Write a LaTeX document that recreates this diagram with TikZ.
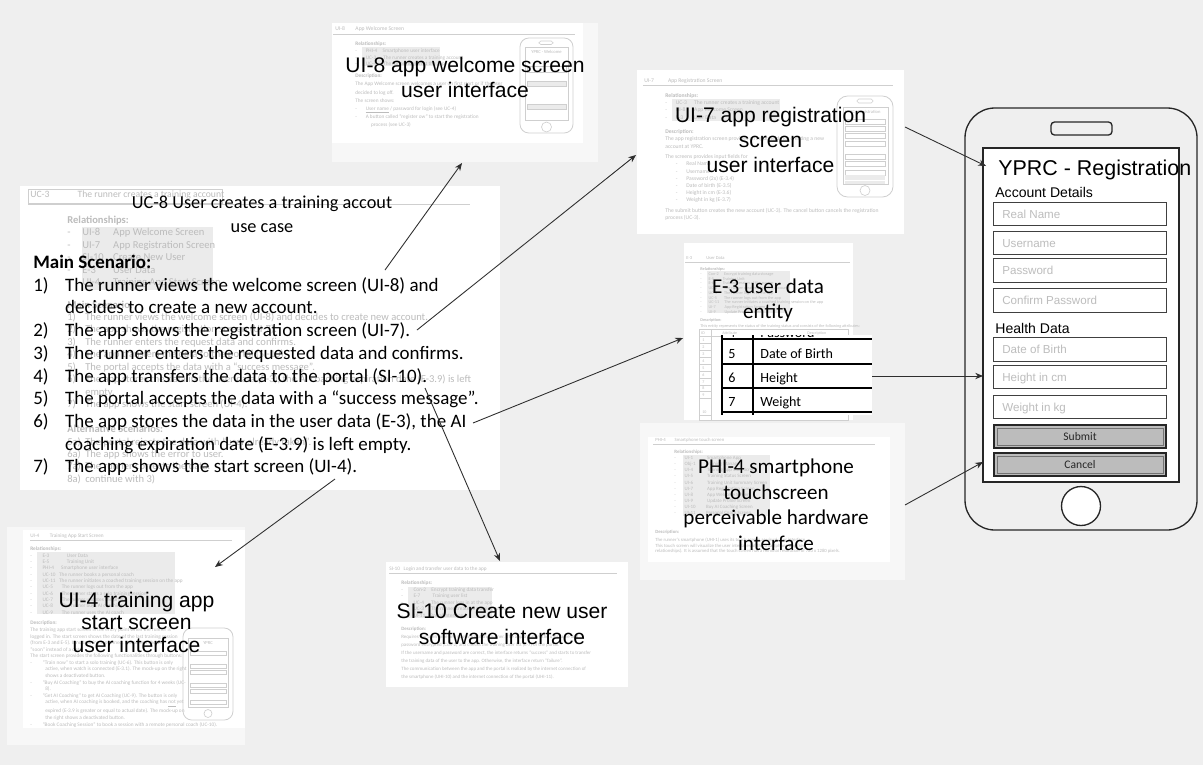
\documentclass[tikz,border=0pt]{standalone}
\usepackage{fontspec}
\setmainfont{Carlito}
\newfontfamily\arialfam{Liberation Sans}
\usetikzlibrary{arrows.meta}

\definecolor{canvas}{HTML}{EFEFEF}
\definecolor{sheetshade}{HTML}{F7F7F7}
\definecolor{ghost}{HTML}{BCBCBC}
\definecolor{hilite}{HTML}{EBEBEB}
\definecolor{placeholder}{HTML}{BDBDBD}
\definecolor{buttonfill}{HTML}{BCBCBC}
\definecolor{wire}{HTML}{2E2E2E}
\definecolor{miniline}{HTML}{CFCFCF}

\newcommand{\pxfont}[2]{\fontsize{#1}{#2}\selectfont}

\tikzset{
  sheet/.style={fill=white},
  sheetedge/.style={fill=sheetshade},
  ghosttext/.style={text=ghost, inner sep=0pt, anchor=north west, align=left},
  ghosthead/.style={text=ghost, inner sep=0pt, anchor=base west},
  ghostrule/.style={draw=miniline, line width=0.4pt},
  hl/.style={fill=hilite},
  arialtag/.style={font=\arialfam\pxfont{12}{14.2}, align=center, inner sep=0pt, anchor=north},
  calibtag/.style={font=\pxfont{12}{14.2}, align=center, inner sep=0pt, anchor=north},
  link/.style={draw=wire, line width=0.5pt, -{Stealth[length=4.4pt,width=3.6pt]}},
  phoneline/.style={draw=black!85, line width=0.75pt},
  fieldbox/.style={draw=black!75, line width=0.55pt, fill=white},
  phtext/.style={font=\arialfam\pxfont{6.6}{8}, text=placeholder, inner sep=0pt, anchor=base west},
  phlabel/.style={font=\arialfam\pxfont{8}{9.6}, inner sep=0pt, anchor=base west},
  pushbutton/.style={draw=black!85, line width=1.1pt, fill=buttonfill},
  buttonbevel/.style={draw=black!55, line width=0.4pt},
  buttontext/.style={font=\pxfont{6.6}{8}, text=black!85, inner sep=0pt, anchor=base},
  minibody/.style={draw=miniline, line width=0.45pt, rounded corners=4pt},
  minipart/.style={draw=miniline, line width=0.35pt},
  tabletext/.style={font=\pxfont{8}{9.6}, inner sep=0pt, anchor=base west},
}

\begin{document}
\begin{tikzpicture}[x=0.02cm,y=-0.02cm]
\useasboundingbox (0,0) rectangle (1203,765);
\fill[canvas] (0,0) rectangle (1203,765);

% ---------------- UI-8 sheet (welcome screen) ----------------
\fill[sheetedge] (332,23) rectangle (598,162);
\fill[sheet] (332,23) rectangle (583,143);
\node[ghosthead, font=\pxfont{3.2}{4}] (u8h) at (335,30) {UI-8\hspace{6pt}App Welcome Screen};
\draw[ghostrule] (333,34) -- (575,34);
\fill[hl] (362,47) rectangle (440,66);
\node[ghosttext, font=\pxfont{3}{3.8}] (u8r) at (355,41.8) {\textbf{Relationships:}\\
-\hspace{5pt}PHI-4\hspace{3pt}Smartphone user interface\\
-\hspace{5pt}UC-3\hspace{4pt}The runner creates a training account\\
-\hspace{5pt}UC-4\hspace{4pt}The runner logs in at the app};
\node[ghosttext, font=\pxfont{3}{4.6}] (u8d) at (355,73.8) {\textbf{Description:}\\
The App Welcome screen welcomes a user on first start or if the user\\
decided to log off.\\
The screen shows:\\
-\hspace{5pt}\underline{User name} / password for login (see UC-4)\\
-\hspace{5pt}A button called ``register ow'' to start the registration\\
\hspace*{9pt}process (see UC-3)};
% small phone mock-up
\draw[minibody, rounded corners=5pt] (520,38) rectangle (573,133);
\draw[minipart, rounded corners=1pt] (539,41) rectangle (553,44.5);
\draw[minipart] (525,47) rectangle (568,120);
\node[ghosthead, font=\pxfont{2.6}{3}, anchor=base] (u8t) at (546.5,53) {YPRC - Welcome};
\draw[minipart] (527,66) rectangle (566,72);
\fill[hilite] (527,81) rectangle (566,86);
\draw[minipart] (527,81) rectangle (566,86);
\fill[hilite] (527,104) rectangle (566,109);
\draw[minipart] (527,104) rectangle (566,109);
\draw[minipart] (546.5,127) circle [radius=0.1cm];

% ---------------- UI-7 sheet (registration screen) ----------------
\fill[sheet] (637,70) rectangle (904,234);
\node[ghosthead, font=\pxfont{3.2}{4}] (u7h) at (644,82) {UI-7\hspace{8pt}App Registration Screen};
\draw[ghostrule] (643,85) -- (893,85);
\fill[hl] (672,99) rectangle (780,121);
\node[ghosttext, font=\pxfont{3.2}{4.25}] (u7r) at (665,92.7) {\textbf{Relationships:}\\
-\hspace{5pt}UC-3\hspace{4pt}The runner creates a training account\\
-\hspace{5pt}UI-8\hspace{5pt}App Welcome Screen\\
-\hspace{5pt}E-3\hspace{6pt}User Data};
\node[ghosttext, font=\pxfont{3.2}{4.5}] (u7d) at (665,128.7) {\textbf{Description:}\\
The app registration screen provides all input fields for creating a new\\
account at YPRC.};
\node[ghosttext, font=\pxfont{3.2}{4}] (u7l) at (665,154.7) {The screens provides input fields for\\
\hspace*{6pt}-\hspace{5pt}Real Name\\
\hspace*{6pt}-\hspace{5pt}Username\\
\hspace*{6pt}-\hspace{5pt}Password (2x) (E-3.4)\\
\hspace*{6pt}-\hspace{5pt}Date of birth (E-3.5)\\
\hspace*{6pt}-\hspace{5pt}Height in cm (E-3.6)\\
\hspace*{6pt}-\hspace{5pt}Weight in kg (E-3.7)};
\node[ghosttext, font=\pxfont{3.2}{4}] (u7s) at (665,207.7) {The submit button creates the new account (UC-3). The cancel button cancels the registration\\
process (UC-3).};
% small phone mock-up
\draw[minibody, rounded corners=6pt] (837,96) rectangle (893,197);
\draw[minipart, rounded corners=1pt] (857,99) rectangle (873,103);
\draw[minipart] (843,107) rectangle (888,184);
\node[ghosthead, font=\pxfont{2.6}{3}] (u7t) at (845,113) {YPRC - Registration};
\foreach \yy in {119,126,133,141,154,161,170} {
  \draw[minipart] (845,\yy) rectangle (885,\yy+5);
}
\fill[hilite] (845,175) rectangle (885,179.5);
\fill[hilite] (845,180.5) rectangle (885,184);
\draw[minipart] (865,190.5) circle [radius=0.1cm];

% ---------------- UC sheet (use case) ----------------
\fill[sheet] (20,186) rectangle (500,490);
\draw[ghostrule] (28,189) rectangle (222,203);
\node[ghosthead, font=\pxfont{5.5}{6.5}] (uch) at (30,197) {UC-3\hspace{16pt}The runner creates a training account};
\draw[ghostrule] (28,204) -- (470,204);
\fill[hl] (82,227) rectangle (213,290);
\node[ghosttext, font=\pxfont{6}{7.09}] (ucr) at (67,215.5) {\textbf{Relationships:}\\
\makebox[8.5pt][l]{-}\makebox[17.6pt][l]{UI-8}App Welcome Screen\\
\makebox[8.5pt][l]{-}\makebox[17.6pt][l]{UI-7}App Registration Screen\\
\makebox[8.5pt][l]{-}\makebox[17.6pt][l]{SI-10}Create New User\\
\makebox[8.5pt][l]{-}\makebox[17.6pt][l]{E-3}User Data\\
\makebox[8.5pt][l]{-}\makebox[17.6pt][l]{UI-4}Training App Start Screen};
\node[ghosttext, font=\pxfont{6}{7.09}] (ucs) at (67,300.3) {\textbf{Main Scenario:}\\
\makebox[10.2pt][l]{1)}The runner views the welcome screen (UI-8) and decides to create new account.\\
\makebox[10.2pt][l]{2)}The app shows the registration screen (UI-7).\\
\makebox[10.2pt][l]{3)}The runner enters the request data and confirms.\\
\makebox[10.2pt][l]{4)}The app transfers the data to the portal (SI-10).\\
\makebox[10.2pt][l]{5)}The portal accepts the data with a ``success message''.\\
\makebox[10.2pt][l]{6)}The app stores the data in the user data (E-3), the AI coaching expiration date (E-3.9) is left\\
\hspace*{10.2pt}empty.\\
\makebox[10.2pt][l]{7)}The app shows the start screen (UI-4).\\[7.09pt]
\textbf{Alternative Scenarios:}\\
\makebox[10.2pt][l]{5a)}The portal rejects the data with ``user already taken''.\\
\makebox[10.2pt][l]{6a)}The app shows the error to user.\\
\makebox[10.2pt][l]{7a)}The runner corrects the data.\\
\makebox[10.2pt][l]{8a)}continue with 3)};

\node[font=\pxfont{10.4}{13.6}, align=center, inner sep=0pt, anchor=north] (uctag) at (262,195.8)
  {UC-8 User creates a training accout\\use case};
\node[font=\pxfont{10.8}{12.93}, align=left, inner sep=0pt, anchor=north west] (scenario) at (33,254.8)
  {\textbf{Main Scenario:}\\
\makebox[18.1pt][l]{1)}The runner views the welcome screen (UI-8) and\\
\hspace*{18.1pt}decides to create a new account.\\
\makebox[18.1pt][l]{2)}The app shows the registration screen (UI-7).\\
\makebox[18.1pt][l]{3)}The runner enters the requested data and confirms.\\
\makebox[18.1pt][l]{4)}The app transfers the data to the portal (SI-10).\\
\makebox[18.1pt][l]{5)}The portal accepts the data with a “success message”.\\
\makebox[18.1pt][l]{6)}The app stores the data in the user data (E-3), the AI\\
\hspace*{18.1pt}coaching expiration date (E-3.9) is left empty.\\
\makebox[18.1pt][l]{7)}The app shows the start screen (UI-4).};

% ---------------- PHI-4 sheet (touch screen) ----------------
\fill[sheetedge] (640,423) rectangle (905,580);
\fill[sheet] (648,437) rectangle (890,562);
\node[ghosthead, font=\pxfont{2.7}{3.4}] (phh) at (655,441) {PHI-4\hspace{5pt}Smartphone touch screen};
\draw[ghostrule] (653,444) -- (875,444);
\fill[hl] (683,455) rectangle (770,516);
\node[ghosttext, font=\pxfont{2.8}{3.46}] (phr) at (674,449.8) {\textbf{Relationships:}\\
-\hspace{5pt}UI-1\hspace{8pt}Smartphone App\\
-\hspace{5pt}Obj-1\hspace{6pt}Training Manager\\
-\hspace{5pt}UI-4\hspace{8pt}Training App Start Screen\\
-\hspace{5pt}UI-5\hspace{8pt}Training Status Screen\\
-\hspace{5pt}UI-6\hspace{8pt}Training Unit Summary Screen\\
-\hspace{5pt}UI-7\hspace{8pt}App Registration Screen\\
-\hspace{5pt}UI-8\hspace{8pt}App Welcome Screen\\
-\hspace{5pt}UI-9\hspace{8pt}Update Profile Screen\\
-\hspace{5pt}UI-10\hspace{6pt}Buy AI Coaching Screen\\
-\hspace{5pt}UI-11\hspace{6pt}Personal Coach Screen};
\node[ghosttext, font=\pxfont{2.7}{3.12}] (phd) at (655,529.8) {\textbf{Description:}\\[1.5pt]
The runner's smartphone (UHI-1) uses its touch screen as visual user interface.\\
This touch screen will visualize the user interfaces of the smartphone app (see\\
relationships). It is assumed that the touch screen has a minimal resolution of 720 x 1280 pixels.};

% ---------------- E-3 sheet (user data) ----------------
\fill[sheet] (684,243) rectangle (853,420);
\node[ghosthead, font=\pxfont{2.6}{3}] (e3h) at (686,259) {E-3\hspace{8pt}User Data};
\draw[ghostrule] (685,262) -- (850,262);
\fill[hl] (707,271) rectangle (790,313);
\node[ghosttext, font=\pxfont{2.4}{2.7}] (e3r) at (700,267.3) {\textbf{Relationships:}\\
-\hspace{4pt}Con-2\hspace{3pt}Encrypt training data storage\\
-\hspace{4pt}E-5\hspace{5pt}Training Unit\\
-\hspace{4pt}E-6\hspace{5pt}Training session of the runner\\
-\hspace{4pt}UC-3\hspace{4pt}The runner creates a training account\\
-\hspace{4pt}UC-4\hspace{4pt}The runner logs in at the app\\
-\hspace{4pt}UC-5\hspace{4pt}The runner logs out from the app\\
-\hspace{4pt}UC-11\hspace{3pt}The runner initiates a coached training session on the app\\
-\hspace{4pt}UI-7\hspace{5pt}App Registration Screen\\
-\hspace{4pt}UI-9\hspace{5pt}Update Profile Screen};
\node[ghosttext, font=\pxfont{2.4}{3.4}] (e3d) at (700,318.3) {\textbf{Description:}\\
This entity represents the status of the training status and consists of the following attributes:};
\draw[ghostrule] (699,329) rectangle (848,420);
\draw[ghostrule] (711,329) -- (711,420);
\draw[ghostrule] (699,336) -- (848,336);
\node[ghosthead, font=\pxfont{2.3}{3}] (e3th) at (701,334) {ID\hspace{10pt}Attribute\hspace{40pt}Description};
\foreach \k/\yy in {1/341,2/348,3/355,4/362,5/369,6/376,7/383,8/389,9/396,10/413} {
  \node[ghosthead, font=\pxfont{2.3}{3}] (e3n\k) at (702,\yy) {\k};
  \draw[ghostrule] (699,\yy+2.5) -- (711,\yy+2.5);
}
% enlarged excerpt of the attribute table
\fill[white] (722,335) rectangle (872,415);
\begin{scope}
  \clip (722,335) rectangle (872,415);
  \node[tabletext] (e3r4n) at (728,337) {4};
  \node[tabletext] (e3r4t) at (760,337) {Password};
\end{scope}
\draw[black, line width=0.6pt] (722,335) -- (722,415);
\draw[black, line width=0.6pt] (753,335) -- (753,415);
\foreach \yy in {339,364,388,412} { \draw[black, line width=0.6pt] (722,\yy) -- (872,\yy); }
\node[tabletext] (e3r5n) at (728,358.5) {5};
\node[tabletext] (e3r5t) at (760,358.5) {Date of Birth};
\node[tabletext] (e3r6n) at (728,382.5) {6};
\node[tabletext] (e3r6t) at (760,382.5) {Height};
\node[tabletext] (e3r7n) at (728,406.5) {7};
\node[tabletext] (e3r7t) at (760,406.5) {Weight};

% ---------------- UI-4 sheet (start screen) ----------------
\fill[sheetedge] (7,527) rectangle (245,745);
\fill[sheet] (23,530) rectangle (245,728);
\node[ghosthead, font=\pxfont{3}{3.6}] (u4h) at (30,537) {UI-4\hspace{6pt}Training App Start Screen};
\draw[ghostrule] (30,540) -- (232,540);
\fill[hl] (37,552) rectangle (175,614);
\node[ghosttext, font=\pxfont{3}{3.6}] (u4r) at (30,546.8) {\textbf{Relationships:}\\
-\hspace{6pt}E-3\hspace{10pt}User Data\\
-\hspace{6pt}E-5\hspace{10pt}Training Unit\\
-\hspace{6pt}PHI-4\hspace{4pt}Smartphone user interface\\
-\hspace{6pt}UC-10\hspace{2pt}The runner books a personal coach\\
-\hspace{6pt}UC-11\hspace{2pt}The runner initiates a coached training session on the app\\
-\hspace{6pt}UC-5\hspace{5pt}The runner logs out from the app\\
-\hspace{6pt}UC-6\hspace{5pt}The runner starts a solo training session\\
-\hspace{6pt}UC-7\hspace{5pt}The runner updates the profile\\
-\hspace{6pt}UC-8\hspace{5pt}The runner buys AI coaching\\
-\hspace{6pt}UC-9\hspace{5pt}The runner uses the AI coach};
\node[ghosttext, font=\pxfont{3}{3.74}] (u4d) at (30,620.8) {\textbf{Description:}\\
The training app start screen is the entry point when the runner is\\
logged in. The start screen shows the date of the last training session\\
(from E-3 and E-5). If no training is planned, the screen shows\\
“soon” instead of a date.\\
The start screen provides the following functionalities through buttons:\\
-\hspace{6pt}“Train now” to start a solo training (UC-6). This button is only\\
\hspace*{8.5pt}active, when watch is connected (E-3.1). The mock-up on the right\\
\hspace*{8.5pt}shows a deactivated button.\\
-\hspace{6pt}“Buy AI Coaching” to buy the AI coaching function for 4 weeks (UC-\\
\hspace*{8.5pt}8).\\
-\hspace{6pt}“Get AI Coaching” to get AI Coaching (UC-9). The button is only\\
\hspace*{8.5pt}active, when AI coaching is booked, and the coaching has \underline{not} yet\\
\hspace*{8.5pt}expired (E-3.9 is greater or equal to actual date). The mock-up on\\
\hspace*{8.5pt}the right shows a deactivated button.\\
-\hspace{6pt}“Book Coaching Session” to book a session with a remote personal coach (UC-10).};
% small phone mock-up
\draw[minibody, rounded corners=5pt] (183,628) rectangle (233,720);
\draw[minipart] (188,638) rectangle (228,707);
\node[ghosthead, font=\pxfont{2.6}{3}, anchor=base] (u4t) at (208,644) {YPRC};
\foreach \yy in {651,664,670,683,689,700} { \draw[minipart] (190,\yy) rectangle (226,\yy+4); }
\draw[minipart] (208,713.5) circle [radius=0.08cm];

% ---------------- SI-10 sheet (software interface) ----------------
\fill[sheet] (386,562) rectangle (628,687);
\node[ghosthead, font=\pxfont{3}{3.6}] (sih) at (389,570) {SI-10\hspace{2pt}Login and transfer user data to the app};
\draw[ghostrule] (389,573) -- (617,573);
\fill[hl] (408,587) rectangle (492,618);
\node[ghosttext, font=\pxfont{3}{3.7}] (sir) at (401,580.8) {\textbf{Relationships:}\\
-\hspace{6pt}Con-2\hspace{3pt}Encrypt training data transfer\\
-\hspace{6pt}E-7\hspace{7pt}Training user list\\
-\hspace{6pt}UC-4\hspace{4pt}The runner logs in at the app\\
-\hspace{6pt}UC-3\hspace{4pt}The runner creates a training account\\
-\hspace{6pt}UI-11\hspace{3pt}Portal interface};
\node[ghosttext, font=\pxfont{2.8}{4.5}] (sid) at (401,626.9) {\textbf{Description:}\\
Requires the username and password of the runner. The app transfers the username and\\
password encrypted (Con-2) and checks the training user list (E-7) of the portal.\\
If the username and password are correct, the interface returns “success” and starts to transfer\\
the training data of the user to the app. Otherwise, the interface return “failure”.\\
The communication between the app and the portal is realized by the internet connection of\\
the smartphone (UHI-10) and the internet connection of the portal (UHI-11).};

% ---------------- overlay captions ----------------
\node[arialtag] (ui8tag) at (465,56.5) {UI-8 app welcome screen\\user interface};
\node[arialtag] (ui7tag) at (770.5,106.8) {UI-7 app registration\\screen\\user interface};
\node[calibtag] (e3tag) at (768,278.2) {E-3 user data\\entity};
\node[calibtag, font=\pxfont{12}{14.7}] (phitag) at (776,458.2) {PHI-4 smartphone\\touchscreen\\perceivable hardware\\interface};
\node[arialtag, font=\arialfam\pxfont{12}{12.8}] (ui4tag) at (136.5,591.8) {UI-4 training app\\start screen\\user interface};
\node[arialtag, font=\arialfam\pxfont{12}{14.7}] (si10tag) at (502,603.5) {SI-10 Create new user\\software interface};

% ---------------- smartphone registration mock-up ----------------
\draw[phoneline, rounded corners=17pt] (965,108) rectangle (1197,530);
\draw[phoneline, rounded corners=2pt] (1051,122) rectangle (1112,135);
\draw[phoneline, fill=white, line width=0.6pt] (983,148) rectangle (1179,482);
\draw[phoneline, fill=white] (1081,506) circle [radius=0.39cm];
\node[font=\arialfam\pxfont{12.2}{14}, inner sep=0pt, anchor=base west] (regtitle) at (998,175) {YPRC - Registration};
\node[phlabel] (acct) at (995,197) {Account Details};
\draw[fieldbox] (993,202) rectangle (1166,225);
\node[phtext] (fname) at (1002,218) {Real Name};
\draw[fieldbox] (993,231) rectangle (1166,254);
\node[phtext] (fuser) at (1002,247) {Username};
\draw[fieldbox] (993,258) rectangle (1166,282);
\node[phtext] (fpass) at (1002,274.5) {Password};
\draw[fieldbox] (993,288) rectangle (1166,312);
\node[phtext] (fconf) at (1002,304.5) {Confirm Password};
\node[phlabel] (health) at (995,333) {Health Data};
\draw[fieldbox] (993,337) rectangle (1166,361);
\node[phtext] (fbirth) at (1002,353.5) {Date of Birth};
\draw[fieldbox] (993,365) rectangle (1166,388);
\node[phtext] (fheight) at (1002,381) {Height in cm};
\draw[fieldbox] (993,395) rectangle (1166,418);
\node[phtext] (fweight) at (1002,411) {Weight in kg};
\draw[pushbutton] (994,425) rectangle (1166,448);
\draw[buttonbevel] (997,428) rectangle (1163,445);
\node[buttontext] (bsubmit) at (1080,440.5) {Submit};
\draw[pushbutton] (994,453) rectangle (1166,476);
\draw[buttonbevel] (997,456) rectangle (1163,473);
\node[buttontext] (bcancel) at (1080,468) {Cancel};

% ---------------- connectors ----------------
\coordinate (fromWelcome) at (385,270);
\coordinate (toWelcome) at (462,163);
\coordinate (fromReg) at (417,330);
\coordinate (toReg) at (636,155);
\coordinate (fromStore) at (473,423);
\coordinate (toUserData) at (683,338);
\coordinate (fromPortal) at (425,388);
\coordinate (toPortal) at (500,561);
\coordinate (fromStart) at (335,479);
\coordinate (toStart) at (215,567);
\coordinate (fromRegSheet) at (905,127);
\coordinate (toTitle) at (986,166);
\coordinate (fromTable) at (872,376);
\coordinate (toHeight) at (983,376);
\coordinate (fromTouch) at (905,505);
\coordinate (toCancel) at (983,462);

\draw[link] (fromWelcome) -- (toWelcome);
\draw[link] (fromReg) -- (toReg);
\draw[link] (fromStore) -- (toUserData);
\draw[link] (fromPortal) -- (toPortal);
\draw[link] (fromStart) -- (toStart);
\draw[link] (fromRegSheet) -- (toTitle);
\draw[link] (fromTable) -- (toHeight);
\draw[link] (fromTouch) -- (toCancel);
\end{tikzpicture}
\end{document}
